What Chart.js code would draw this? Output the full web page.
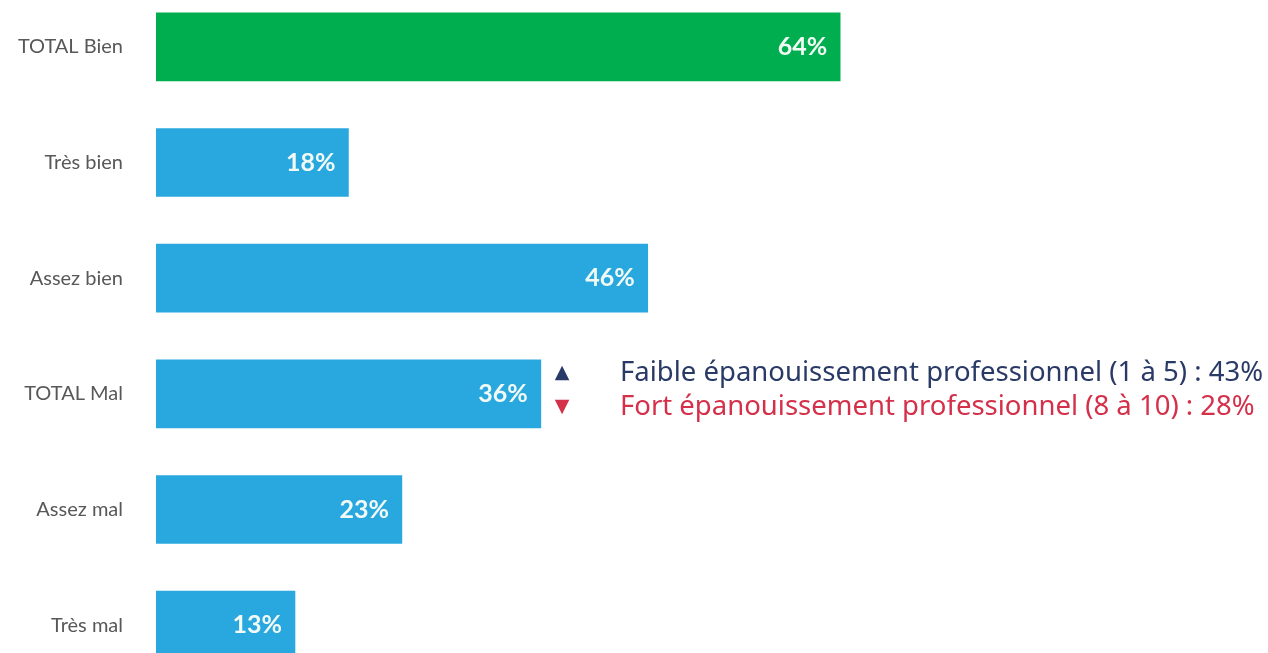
<!DOCTYPE html>
<html>
<head>
<meta charset="utf-8">
<script src="https://cdn.jsdelivr.net/npm/chart.js@4.4.1/dist/chart.umd.min.js"></script>
<style>
  html, body { margin: 0; padding: 0; background: #fff; overflow: hidden; }
  #grafica { position: absolute; left: 0; top: -11px; }
</style>
</head>
<body>
<canvas id="grafica" width="1268" height="694"></canvas>
<script>
// --- Données ---
const categories = ['TOTAL Bien', 'Très bien', 'Assez bien', 'TOTAL Mal', 'Assez mal', 'Très mal'];
const valeurs = [64, 18, 46, 36, 23, 13];
const couleursBarres = ['#00ad4f', '#29a8e0', '#29a8e0', '#29a8e0', '#29a8e0', '#29a8e0'];

// note à côté de "TOTAL Mal"
const noteCategorie = 'TOTAL Mal';
const noteLignes = [
    'Faible épanouissement professionnel (1 à 5) : 43%',
    'Fort épanouissement professionnel (8 à 10) : 28%'
];
const noteSymboles = ['▲', '▼'];
const noteCouleurs = ['#2a3a66', '#d4304a'];

// --- étiquettes dans les barres ---
const pluginValeurs = {
    id: 'valeurs',
    afterDatasetsDraw(chart) {
        const ctx = chart.ctx;
        const meta = chart.getDatasetMeta(0);
        ctx.save();
        ctx.font = 'bold 25px Lato, "Open Sans", sans-serif';
        ctx.fillStyle = '#f2faf5';
        ctx.textAlign = 'right';
        ctx.textBaseline = 'middle';
        meta.data.forEach((barre, i) => {
            ctx.fillText(valeurs[i] + '%', barre.x - 13, barre.y);
        });
        ctx.restore();
    }
};

// --- note explicative ---
const pluginNote = {
    id: 'note',
    afterDraw(chart) {
        const ctx = chart.ctx;
        const y0 = chart.scales.y.getPixelForValue(categories.indexOf(noteCategorie));
        ctx.save();
        ctx.textBaseline = 'middle';
        noteLignes.forEach((txt, i) => {
            const y = y0 - 21 + i * 34;
            ctx.fillStyle = noteCouleurs[i];
            ctx.font = '19px "DejaVu Sans", sans-serif';
            ctx.textAlign = 'center';
            ctx.fillText(noteSymboles[i], 562, y);
            ctx.textAlign = 'left';
            ctx.font = '22px "Noto Sans", sans-serif';
            // ajuster la largeur à celle de l'original
            const largeur = ctx.measureText(noteLignes[0]).width;
            const echelle = 643 / largeur;
            ctx.font = (22 * echelle).toFixed(1) + 'px "Noto Sans", sans-serif';
            ctx.fillText(txt, 620, y);
        });
        ctx.restore();
    }
};

new Chart(document.getElementById('grafica'), {
    type: 'bar',
    data: {
        labels: categories,
        datasets: [{
            data: valeurs,
            backgroundColor: couleursBarres,
            barThickness: 68
        }]
    },
    options: {
        indexAxis: 'y',
        responsive: false,
        animation: false,
        layout: { padding: { left: 0, right: 43, top: 0, bottom: 0 } },
        plugins: { legend: { display: false }, tooltip: { enabled: false } },
        scales: {
            x: {
                display: false,
                min: 0,
                max: 100
            },
            y: {
                grid: { display: false, drawTicks: false },
                border: { display: false },
                ticks: {
                    color: '#585858',
                    padding: 33,
                    font: { family: 'Lato, sans-serif', size: 20 }
                },
                afterFit(scale) {
                    scale.width = 156;
                    scale.paddingTop = 0;
                    scale.paddingBottom = 0;
                }
            }
        }
    },
    plugins: [pluginValeurs, pluginNote]
});
</script>
</body>
</html>
